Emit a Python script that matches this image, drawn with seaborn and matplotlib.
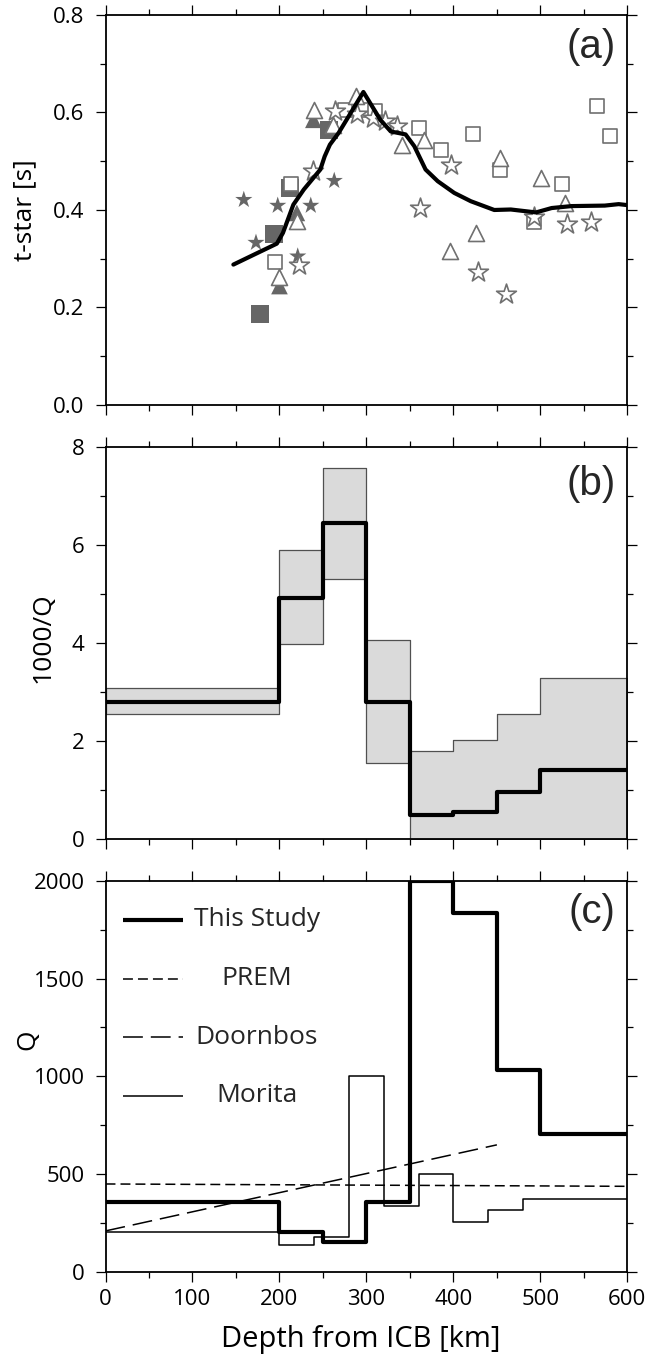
import numpy as np
import matplotlib
matplotlib.use("Agg")
import matplotlib.pyplot as plt
from matplotlib.ticker import MultipleLocator, FormatStrFormatter
import seaborn as sns

# ---------------- (a) t* measurements, grouped by symbol ----------------
sq_fill_depth = [178, 194, 212, 257]
sq_fill_tstar = [0.187, 0.351, 0.445, 0.565]
tri_fill_depth = [200, 220, 239]
tri_fill_tstar = [0.244, 0.394, 0.585]
star_fill_depth = [159, 173, 198, 221, 236, 263]
star_fill_tstar = [0.421, 0.333, 0.409, 0.305, 0.409, 0.460]

sq_open_depth = [195, 213, 275, 296, 310, 360, 386, 423, 454, 493, 525, 565, 580]
sq_open_tstar = [0.293, 0.454, 0.606, 0.606, 0.602, 0.568, 0.523, 0.555, 0.483,
                 0.375, 0.454, 0.614, 0.551]
tri_open_depth = [200, 220, 240, 262, 288, 341, 366, 396, 426, 454, 501, 528]
tri_open_tstar = [0.262, 0.377, 0.606, 0.575, 0.633, 0.534, 0.544, 0.316, 0.353,
                  0.507, 0.466, 0.415]
star_open_depth = [223, 239, 264, 289, 308, 321, 335, 362, 397, 428, 461, 493, 531, 558]
star_open_tstar = [0.288, 0.480, 0.604, 0.596, 0.589, 0.582, 0.572, 0.404, 0.493,
                   0.273, 0.227, 0.386, 0.372, 0.375]

# predicted t* from the layered model
model_depth = [147, 197, 204, 216, 228, 247, 252, 258, 268, 296.5, 316, 328, 345, 355,
               368, 382, 401, 420, 447, 466, 495, 513, 536, 574, 590, 600]
model_tstar = [0.288, 0.331, 0.353, 0.411, 0.442, 0.483, 0.510, 0.534, 0.558, 0.642,
               0.585, 0.561, 0.555, 0.531, 0.483, 0.459, 0.435, 0.418, 0.400, 0.401,
               0.395, 0.404, 0.408, 0.409, 0.412, 0.410]

# ---------------- (b) attenuation of each depth layer ----------------
layer_edges = [0, 200, 250, 300, 350, 400, 450, 500, 600]
inv_q = [2.80, 4.93, 6.45, 2.80, 0.50, 0.545, 0.97, 1.415]
inv_q_low = [2.55, 3.98, 5.31, 1.56, 0.0, 0.0, 0.0, 0.0]
inv_q_high = [3.09, 5.90, 7.57, 4.06, 1.80, 2.02, 2.55, 3.28]

# ---------------- (c) Q models ----------------
prem_depth = [0, 600]
prem_q = [450, 438]
doornbos_depth = [0, 450]
doornbos_q = [210, 650]
morita_edges = [0, 200, 240, 280, 320, 360, 400, 440, 480, 600]
morita_q = [205, 136, 180, 1000, 335, 502, 255, 315, 374]

legend_labels = ["This Study", "PREM", "Doornbos", "Morita"]

# ---------------- style ----------------
sns.set_theme(style="ticks")
plt.rcParams.update({
    "font.family": ["Open Sans", "DejaVu Sans"],
    "axes.linewidth": 1.3,
    "axes.edgecolor": "black",
    "axes.labelcolor": "black",
    "xtick.color": "black",
    "ytick.color": "black",
    "xtick.direction": "out",
    "ytick.direction": "out",
    "xtick.top": True,
    "ytick.right": True,
    "xtick.major.size": 7.5,
    "ytick.major.size": 7.5,
    "xtick.minor.size": 4.0,
    "ytick.minor.size": 4.0,
    "xtick.major.width": 0.9,
    "ytick.major.width": 0.9,
    "xtick.minor.width": 0.9,
    "ytick.minor.width": 0.9,
    "xtick.labelsize": 16,
    "ytick.labelsize": 16,
    "ytick.major.pad": 7.5,
    "xtick.major.pad": 5,
})

fig = plt.figure(figsize=(6.47, 13.6), dpi=100)
L, W = 0.1631, 0.8065
ax_a = fig.add_axes([L, 0.7022, W, 0.2868])
ax_b = fig.add_axes([L, 0.3831, W, 0.2879])
ax_c = fig.add_axes([L, 0.0647, W, 0.2877])

fill_gray = "#666666"
edge_gray = "#707070"
pt = 0.72  # points per pixel at 100 dpi


def steps(values):
    return np.append(values, values[-1])


# ---------------- panel (a) ----------------
for xs, ys, mk, size in [(sq_fill_depth, sq_fill_tstar, "s", 13),
                         (tri_fill_depth, tri_fill_tstar, "^", 12),
                         (star_fill_depth, star_fill_tstar, "*", 13)]:
    sns.scatterplot(x=xs, y=ys, ax=ax_a, marker=mk, s=size ** 2, color=fill_gray,
                    edgecolor="none", linewidth=0, zorder=2)
for xs, ys, mk, size in [(sq_open_depth, sq_open_tstar, "s", 10.5),
                         (tri_open_depth, tri_open_tstar, "^", 11.5),
                         (star_open_depth, star_open_tstar, "*", 15)]:
    sns.scatterplot(x=xs, y=ys, ax=ax_a, marker=mk, s=size ** 2, color="white",
                    edgecolor=edge_gray, linewidth=1.2, zorder=3)
sns.lineplot(x=model_depth, y=model_tstar, ax=ax_a, color="black", lw=3,
             sort=False, estimator=None, zorder=4)

ax_a.set_ylim(0, 0.8)
ax_a.yaxis.set_major_locator(MultipleLocator(0.2))
ax_a.yaxis.set_minor_locator(MultipleLocator(0.1))
ax_a.yaxis.set_major_formatter(FormatStrFormatter("%.1f"))
ax_a.set_ylabel("t-star [s]", fontsize=19)
ax_a.yaxis.set_label_coords(-0.155, 0.5)

# ---------------- panel (b) ----------------
ax_b.fill_between(layer_edges, steps(inv_q_low), steps(inv_q_high), step="post",
                  facecolor="#dadada", edgecolor="#505050", linewidth=0.9, zorder=1)
sns.lineplot(x=layer_edges, y=steps(inv_q), ax=ax_b, drawstyle="steps-post",
             color="black", lw=3, estimator=None, zorder=3)
ax_b.set_ylim(0, 8)
ax_b.yaxis.set_major_locator(MultipleLocator(2))
ax_b.yaxis.set_minor_locator(MultipleLocator(1))
ax_b.set_ylabel("1000/Q", fontsize=19)
ax_b.yaxis.set_label_coords(-0.12, 0.515)

# ---------------- panel (c) ----------------
q_this = 1000.0 / np.asarray(inv_q)
styles = {
    "This Study": dict(lw=3.0, linestyle="-"),
    "PREM": dict(lw=1.1, linestyle=(0, (6.5, 3.3))),
    "Doornbos": dict(lw=1.1, linestyle=(0, (13, 5.2))),
    "Morita": dict(lw=1.1, linestyle="-"),
}
sns.lineplot(x=morita_edges, y=steps(morita_q), ax=ax_c, drawstyle="steps-post",
             color="black", estimator=None, zorder=2, **styles["Morita"])
sns.lineplot(x=prem_depth, y=prem_q, ax=ax_c, color="black", estimator=None,
             zorder=2, **styles["PREM"])
sns.lineplot(x=doornbos_depth, y=doornbos_q, ax=ax_c, color="black", estimator=None,
             zorder=2, **styles["Doornbos"])
sns.lineplot(x=layer_edges, y=steps(q_this), ax=ax_c, drawstyle="steps-post",
             color="black", estimator=None, zorder=3, **styles["This Study"])

# legend: sample line on the left, centred label to its right
for i, name in enumerate(legend_labels):
    yk = 0.90 - 0.15 * i
    ax_c.plot([0.033, 0.148], [yk, yk], transform=ax_c.transAxes, color="black",
              solid_capstyle="butt", dash_capstyle="butt", **styles[name])
    ax_c.text(0.29, yk, name, transform=ax_c.transAxes, ha="center", va="center",
              fontsize=19)

ax_c.set_ylim(0, 2000)
ax_c.yaxis.set_major_locator(MultipleLocator(500))
ax_c.yaxis.set_minor_locator(MultipleLocator(250))
ax_c.set_ylabel("Q", fontsize=19)
ax_c.yaxis.set_label_coords(-0.1485, 0.593)
ax_c.set_xlabel("Depth from ICB [km]", fontsize=21)
ax_c.xaxis.set_label_coords(0.49, -0.173)
ax_c.xaxis.label.set_va("center")

# ---------------- shared axis set-up ----------------
for ax, tag, ty in [(ax_a, "(a)", 0.917), (ax_b, "(b)", 0.907), (ax_c, "(c)", 0.921)]:
    ax.set_xlim(0, 600)
    ax.xaxis.set_major_locator(MultipleLocator(100))
    ax.xaxis.set_minor_locator(MultipleLocator(50))
    ax.tick_params(which="both", top=True, right=True, labelright=False, labeltop=False)
    ax.yaxis.label.set_va("center")
    if ax is not ax_c:
        ax.set_xlabel("")
        ax.tick_params(labelbottom=False)
    ax.text(0.978, ty, tag, transform=ax.transAxes, ha="right", va="center",
            fontsize=29, family="Liberation Sans")
    for s in ax.spines.values():
        s.set_zorder(5)

fig.savefig("out.png", dpi=100)
